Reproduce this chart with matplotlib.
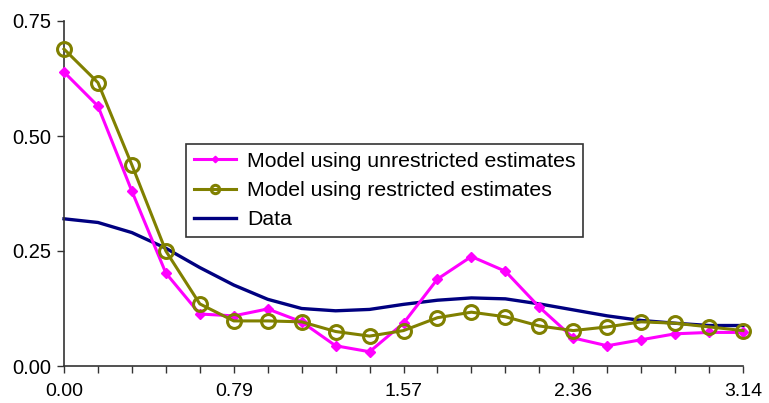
import numpy as np
import matplotlib
matplotlib.use("Agg")
import matplotlib.pyplot as plt
from matplotlib.ticker import FixedLocator, FormatStrFormatter

plt.rcParams['font.family'] = ['Liberation Sans', 'DejaVu Sans']

n_points = 21
x_values = np.linspace(0, np.pi, n_points)

unrestricted = [0.639, 0.565, 0.380, 0.202, 0.113, 0.109, 0.124, 0.096, 0.044, 0.031,
                0.093, 0.189, 0.238, 0.206, 0.128, 0.061, 0.044, 0.057, 0.070, 0.073, 0.073]
restricted = [0.689, 0.616, 0.437, 0.250, 0.135, 0.098, 0.098, 0.096, 0.075, 0.065,
              0.077, 0.105, 0.117, 0.107, 0.087, 0.077, 0.085, 0.096, 0.093, 0.085, 0.077]
data = [0.320, 0.312, 0.290, 0.256, 0.214, 0.176, 0.145, 0.125, 0.120, 0.123,
        0.134, 0.143, 0.148, 0.146, 0.135, 0.122, 0.109, 0.099, 0.093, 0.088, 0.088]

labels = ["Model using unrestricted estimates", "Model using restricted estimates", "Data"]
major_ticks = [0.0, np.pi / 4, np.pi / 2, 3 * np.pi / 4, np.pi]
y_ticks = [0.0, 0.25, 0.5, 0.75]

fig = plt.figure(figsize=(7.69, 4.03), dpi=100)
ax = fig.add_axes([64 / 769, 37 / 403, 679 / 769, 345 / 403])

ax.plot(x_values, unrestricted, color='#FF00FF', lw=2.2, marker='D', markersize=5.5,
        markeredgecolor='#FF00FF', clip_on=False, label=labels[0], zorder=3)
ax.plot(x_values, restricted, color='#808000', lw=2.2, marker='o', markersize=10,
        markerfacecolor='none', markeredgewidth=2.2, markeredgecolor='#808000',
        clip_on=False, label=labels[1], zorder=4)
ax.plot(x_values, data, color='#000080', lw=2.4, clip_on=False, label=labels[2], zorder=2)

ax.set_xlim(0, np.pi)
ax.set_ylim(0, 0.75)
ax.xaxis.set_major_locator(FixedLocator(major_ticks))
ax.xaxis.set_minor_locator(FixedLocator(list(x_values)))
ax.xaxis.set_major_formatter(FormatStrFormatter('%.2f'))
ax.yaxis.set_major_locator(FixedLocator(y_ticks))
ax.yaxis.set_major_formatter(FormatStrFormatter('%.2f'))

for s in ['top', 'right']:
    ax.spines[s].set_visible(False)
for s in ['left', 'bottom']:
    ax.spines[s].set_color('#333333')
    ax.spines[s].set_linewidth(1.2)

ax.tick_params(axis='x', which='both', direction='out', length=5, width=1, colors='#333333',
               labelcolor='black', labelsize=14, pad=7.5)
ax.tick_params(axis='y', which='major', direction='out', length=5, width=1, colors='#333333',
               labelcolor='black', labelsize=14.5, pad=4)

leg = ax.legend(loc='upper left', bbox_to_anchor=((186 - 64) / 679, (366 - 144) / 345),
                fontsize=15.3, frameon=True, fancybox=False, framealpha=1,
                edgecolor='#333333', markerscale=0.6, handlelength=2.0,
                borderpad=0.36, labelspacing=0.49, handletextpad=0.5, borderaxespad=0)
leg.get_frame().set_linewidth(1.2)

fig.savefig('out.png', dpi=100)
